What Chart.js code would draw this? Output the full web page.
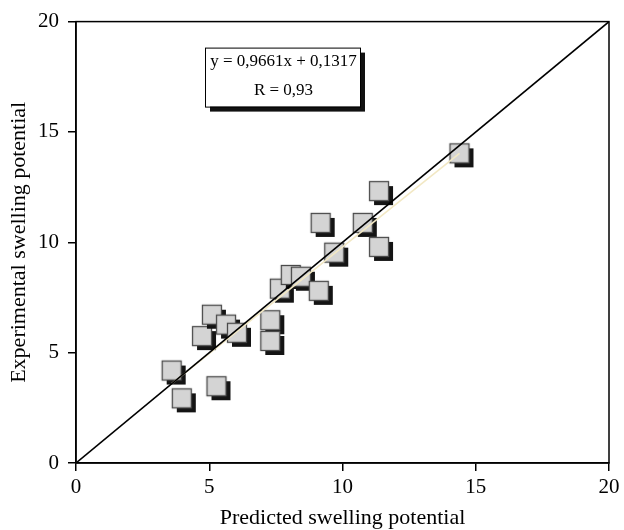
<!DOCTYPE html>
<html>
<head>
<meta charset="utf-8">
<script src="https://cdn.jsdelivr.net/npm/chart.js@4/dist/chart.umd.min.js"></script>
<style>
  html, body { margin: 0; padding: 0; background: #fff; }
  #wrap { width: 624px; height: 530px; }
</style>
</head>
<body>
<div id="wrap"><canvas id="chart" width="624" height="530"></canvas></div>
<script>
// predicted (x) vs experimental (y) swelling potential
const predicted = [3.59, 3.97, 4.73, 5.10, 5.27, 5.63, 6.04, 7.29, 7.29, 7.65,
                   8.06, 8.44, 9.11, 9.18, 9.69, 10.76, 11.37, 11.37, 14.39];
const experimental = [4.19, 2.93, 5.75, 6.72, 3.48, 6.27, 5.90, 6.47, 5.53, 7.90,
                      8.52, 8.44, 7.80, 10.88, 9.53, 10.88, 12.32, 9.79, 14.03];

const axisTicks = [0, 5, 10, 15, 20];
const fitSlope = 0.9661;
const fitIntercept = 0.1317;
const equationLines = ['y = 0,9661x + 0,1317', 'R = 0,93'];

const points = predicted.map((x, i) => ({ x: x, y: experimental[i] }));
const xMin = Math.min(...predicted);
const xMax = Math.max(...predicted);
const fitLine = [
    { x: xMin, y: fitSlope * xMin + fitIntercept },
    { x: xMax, y: fitSlope * xMax + fitIntercept }
];
const identity = [{ x: 0, y: 0 }, { x: 20, y: 20 }];

// square marker with a drop shadow
function makeMarker() {
    const c = document.createElement('canvas');
    c.width = 34;
    c.height = 34;
    const g = c.getContext('2d');
    g.fillStyle = '#141414';
    g.fillRect(12, 12, 19, 19);
    g.fillStyle = '#d4d4d4';
    g.fillRect(7.5, 7.5, 19, 19);
    g.strokeStyle = '#4a4a4a';
    g.lineWidth = 1.3;
    g.strokeRect(7.5, 7.5, 19, 19);
    return c;
}

const serif = "'Liberation Serif', 'Times New Roman', serif";

const frameAndBox = {
    id: 'frameAndBox',
    afterDraw(chart) {
        const { ctx, chartArea } = chart;
        ctx.save();
        ctx.strokeStyle = '#000';
        ctx.lineWidth = 1.5;
        ctx.strokeRect(chartArea.left, chartArea.top,
            chartArea.right - chartArea.left, chartArea.bottom - chartArea.top);

        // equation box
        const bx = chartArea.left + 129;
        const by = chartArea.top + 26;
        const bw = 155, bh = 59;
        ctx.fillStyle = '#111';
        ctx.fillRect(bx + 5, by + 5, bw, bh);
        ctx.fillStyle = '#fff';
        ctx.fillRect(bx, by, bw, bh);
        ctx.lineWidth = 1;
        ctx.strokeRect(bx + 0.5, by + 0.5, bw, bh);
        ctx.fillStyle = '#000';
        ctx.font = '17px ' + serif;
        ctx.textAlign = 'center';
        ctx.textBaseline = 'middle';
        ctx.fillText(equationLines[0], bx + bw / 2 + 1, by + 14);
        ctx.fillText(equationLines[1], bx + bw / 2 + 1, by + 43);
        ctx.restore();
    }
};

new Chart(document.getElementById('chart'), {
    type: 'scatter',
    data: {
        datasets: [{
            label: 'Data',
            data: points,
            pointStyle: makeMarker(),
            order: 3
        }, {
            type: 'line',
            label: 'Fit',
            data: fitLine,
            borderColor: '#f2e8c4',
            borderWidth: 1.6,
            pointRadius: 0,
            fill: false,
            order: 2
        }, {
            type: 'line',
            label: '1:1',
            data: identity,
            borderColor: '#000',
            borderWidth: 1.6,
            pointRadius: 0,
            fill: false,
            order: 1
        }]
    },
    options: {
        responsive: false,
        animation: false,
        events: [],
        layout: { padding: { top: 18, right: 15, left: 0, bottom: 0 } },
        plugins: {
            legend: { display: false },
            tooltip: { enabled: false }
        },
        scales: {
            x: {
                type: 'linear',
                min: 0,
                max: 20,
                afterBuildTicks: (scale) => { scale.ticks = axisTicks.map(v => ({ value: v })); },
                afterFit: (scale) => { scale.height = 67; },
                ticks: { color: '#000', padding: 4, font: { family: serif, size: 21 } },
                grid: { drawOnChartArea: false, tickLength: 8, color: '#000', lineWidth: 1.5 },
                border: { color: '#000', width: 1.5 },
                title: {
                    display: true,
                    text: 'Predicted swelling potential',
                    color: '#000',
                    padding: 0,
                    font: { family: serif, size: 22, lineHeight: 1.1 }
                }
            },
            y: {
                type: 'linear',
                min: 0,
                max: 20,
                afterBuildTicks: (scale) => { scale.ticks = axisTicks.map(v => ({ value: v })); },
                afterFit: (scale) => { scale.width = 76; },
                ticks: { color: '#000', padding: 9, font: { family: serif, size: 21 } },
                grid: { drawOnChartArea: false, tickLength: 8, color: '#000', lineWidth: 1.5 },
                border: { color: '#000', width: 1.5 },
                title: {
                    display: true,
                    text: 'Experimental swelling potential',
                    color: '#000',
                    padding: 6,
                    font: { family: serif, size: 22 }
                }
            }
        }
    },
    plugins: [frameAndBox]
});
</script>
</body>
</html>
